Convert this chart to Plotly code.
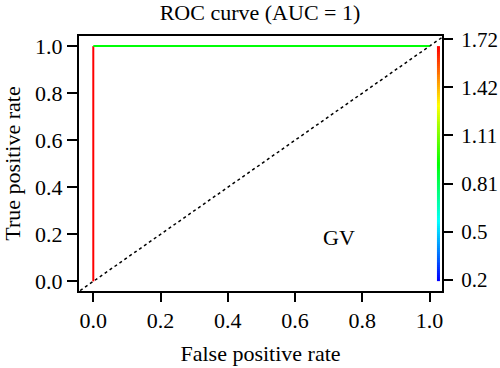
import numpy as np
import plotly.graph_objects as go
import plotly.colors as pc

# ROC curve data (GV)
fpr = [0.0, 0.0, 1.0]
tpr = [0.0, 1.0, 1.0]
seg_cutoff = [1.72, 0.95]          # cutoff at start of each segment
cut_min, cut_max = 0.2, 1.72
cut_ticks = [0.2, 0.504, 0.808, 1.112, 1.416, 1.72]
cut_tick_labels = ["0.2", "0.5", "0.81", "1.11", "1.42", "1.72"]
x_ticks = [0.0, 0.2, 0.4, 0.6, 0.8, 1.0]
y_ticks = [0.0, 0.2, 0.4, 0.6, 0.8, 1.0]

rainbow = [[0.0, "#0000FF"], [0.25, "#00FFFF"], [0.5, "#00FF00"],
           [0.75, "#FFFF00"], [1.0, "#FF0000"]]

def cut_color(c):
    t = (c - cut_min) / (cut_max - cut_min)
    return pc.sample_colorscale(rainbow, [t])[0]

FONT = "Liberation Serif"
FS = 22
fig = go.Figure()

# diagonal reference
fig.add_trace(go.Scatter(x=[-0.2, 1.2], y=[-0.2, 1.2], mode="lines",
                         line=dict(color="black", width=1.5, dash="3px,3px"),
                         hoverinfo="skip", showlegend=False))

# colorized ROC segments
for i in range(len(fpr) - 1):
    fig.add_trace(go.Scatter(x=fpr[i:i + 2], y=tpr[i:i + 2], mode="lines",
                             line=dict(color=cut_color(seg_cutoff[i]), width=2),
                             showlegend=False))

# color key strip
N = 120
zvals = np.linspace(cut_min, cut_max, N).reshape(N, 1)
fig.add_trace(go.Heatmap(z=zvals, x0=1.0265, dx=0.009, y0=0.5 / N, dy=1.0 / N,
                         colorscale=rainbow, zmin=cut_min, zmax=cut_max,
                         showscale=False, hoverinfo="skip"))

# dummy for right axis
fig.add_trace(go.Scatter(x=[0.5], y=[cut_min], yaxis="y2", mode="markers",
                         marker=dict(opacity=0), hoverinfo="skip", showlegend=False))

fig.add_annotation(x=0.73, y=0.188, text="GV", showarrow=False,
                   font=dict(family=FONT, size=FS, color="black"))

axis_common = dict(showgrid=False, zeroline=False, ticks="outside",
                   tickcolor="black", tickwidth=1.5, automargin=False)
tfont = dict(family=FONT, size=FS, color="black")

fig.update_layout(
    width=500, height=368,
    margin=dict(l=79, r=58, t=36, b=77),
    plot_bgcolor="white", paper_bgcolor="white",
    title=dict(text="ROC curve (AUC = 1)", x=0.52, xanchor="center",
               y=0.967, yref="container", yanchor="middle",
               font=dict(family=FONT, size=FS, color="black")),
    xaxis=dict(range=[-0.0425, 1.037], tickvals=x_ticks, tickformat=".1f",
               ticklen=9, showline=True, linecolor="black", linewidth=2, mirror=True,
               tickfont=tfont,
               title=dict(text="False positive rate", standoff=13,
                          font=dict(family=FONT, size=FS, color="black")),
               **axis_common),
    yaxis=dict(range=[-0.041, 1.043], tickvals=y_ticks, tickformat=".1f",
               ticklen=10, showline=True, linecolor="black", linewidth=2, mirror=True,
               tickfont=tfont,
               title=dict(text="True positive rate", standoff=8,
                          font=dict(family=FONT, size=FS, color="black")),
               **axis_common),
    yaxis2=dict(overlaying="y", side="right", range=[0.128, 1.741],
                tickvals=cut_ticks, ticktext=cut_tick_labels, ticklen=10,
                ticklabelstandoff=4, showline=False,
                tickfont=dict(family=FONT, size=21, color="black"),
                **axis_common),
)

fig.write_html("out.html", config={"displayModeBar": False},
               post_script="document.body.style.margin='0';")
